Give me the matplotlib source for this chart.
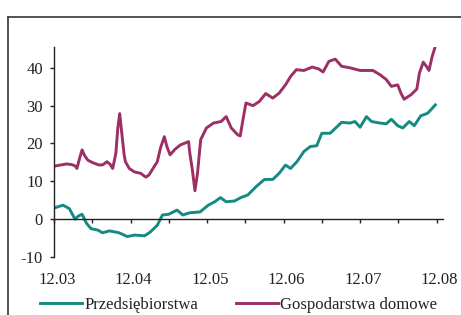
import matplotlib
matplotlib.use("Agg")
import matplotlib.pyplot as plt
from matplotlib.lines import Line2D

# months since Dec 2003
purple_x = [0, 1.0, 2.0, 2.8, 3.3, 3.6, 4.0, 4.4, 4.8, 5.3, 6.1, 7.1, 7.7, 8.3, 8.8,
            9.2, 9.7, 10.0, 10.3, 10.6, 11.0, 11.2, 11.8, 12.6, 13.6, 14.4, 14.9, 15.3,
            16.2, 16.7, 17.3, 17.7, 18.2, 19.0, 19.8, 21.1, 21.3, 21.7, 22.1, 22.5, 23.0,
            23.9, 25.0, 26.2, 27.0, 27.8, 28.8, 29.2, 29.6, 30.1, 31.2, 32.2, 33.2, 34.3,
            35.3, 36.3, 37.1, 38.0, 39.2, 40.5, 41.5, 42.2, 43.1, 44.1, 45.1, 46.4, 48.0,
            50.0, 51.1, 52.1, 52.9, 53.9, 54.4, 54.9, 56.0, 56.9, 57.3, 57.9, 58.4, 58.8,
            59.3, 59.8]
purple_y = [14.0, 14.3, 14.6, 14.4, 14.1, 13.4, 16.0, 18.3, 16.8, 15.6, 14.9, 14.3, 14.4,
            15.2, 14.5, 13.4, 17.4, 24.0, 27.9, 23.2, 17.0, 15.2, 13.4, 12.5, 12.1, 11.1,
            11.7, 12.8, 15.2, 18.8, 21.8, 19.2, 17.0, 18.5, 19.6, 20.5, 17.4, 13.0, 7.5,
            12.1, 21.0, 24.1, 25.4, 25.8, 27.1, 24.1, 22.3, 22.0, 26.0, 30.7, 30.0, 31.1,
            33.2, 32.0, 33.3, 35.5, 37.7, 39.5, 39.3, 40.2, 39.7, 38.9, 41.7, 42.3, 40.4,
            40.0, 39.3, 39.3, 38.2, 36.9, 35.1, 35.5, 33.3, 31.7, 32.9, 34.4, 38.6, 41.5,
            40.4, 39.3, 43.0, 45.7]

teal_x = [0, 0.3, 1.4, 2.4, 3.3, 3.8, 4.4, 5.1, 5.8, 6.9, 7.6, 8.7, 10.2, 11.5, 12.6,
          14.2, 15.1, 16.2, 17.0, 18.0, 19.3, 20.2, 21.3, 22.9, 24.2, 25.2, 26.1, 27.0,
          28.3, 29.3, 30.4, 31.7, 33.0, 34.3, 35.3, 36.3, 37.1, 38.1, 39.2, 40.2, 41.2,
          42.0, 43.3, 44.3, 45.1, 46.4, 47.2, 48.0, 49.0, 49.8, 51.1, 52.1, 52.9, 53.9,
          54.7, 55.7, 56.5, 57.5, 58.6, 59.8]
teal_y = [3.0, 3.1, 3.7, 2.8, 0.0, 0.8, 1.3, -1.1, -2.5, -2.9, -3.6, -3.1, -3.6, -4.6,
          -4.2, -4.4, -3.4, -1.6, 1.1, 1.3, 2.4, 1.1, 1.7, 1.9, 3.7, 4.6, 5.7, 4.6, 4.8,
          5.7, 6.4, 8.6, 10.5, 10.5, 12.1, 14.3, 13.4, 15.2, 17.9, 19.2, 19.4, 22.7, 22.7,
          24.3, 25.6, 25.4, 25.8, 24.3, 27.1, 25.8, 25.4, 25.2, 26.4, 24.7, 24.1, 25.8,
          24.7, 27.3, 28.0, 30.2]

year_ticks = [0, 12, 24, 36, 48, 60]
year_labels = ["12.03", "12.04", "12.05", "12.06", "12.07", "12.08"]
half_ticks = [0, 6, 12, 18, 24, 30, 36, 42, 48, 54, 60]
y_ticks = [-10, 0, 10, 20, 30, 40]

TEAL = "#158a82"
PLUM = "#9b2f66"
TXT = "#222222"

plt.rcParams["font.family"] = ["Liberation Serif", "DejaVu Serif"]
plt.rcParams["axes.unicode_minus"] = False

fig = plt.figure(figsize=(4.61, 3.15), dpi=100)
ax = fig.add_axes([54 / 461, 58 / 315, 389 / 461, 210 / 315])

ax.plot(teal_x, teal_y, color=TEAL, lw=2.1, label="Przedsiębiorstwa")
ax.plot(purple_x, purple_y, color=PLUM, lw=2.1, label="Gospodarstwa domowe")

ax.set_xlim(0, 61)
ax.set_ylim(-10, 45.5)
for s in ("top", "right"):
    ax.spines[s].set_visible(False)
ax.spines["bottom"].set_position(("data", 0))
for s in ("left", "bottom"):
    ax.spines[s].set_color("#222222")
    ax.spines[s].set_linewidth(1.0)

ax.set_yticks(y_ticks)
ax.set_xticks(half_ticks)
ax.tick_params(axis="y", direction="out", length=3, width=1, pad=5,
               labelsize=12, labelcolor=TXT, color="#222222")
ax.tick_params(axis="x", direction="out", length=3, width=1,
               labelbottom=False, color="#222222")

# year labels sit below the plot, not on the zero line
for xt, lab in zip(year_ticks, year_labels):
    ax.annotate(lab, xy=(xt, 0), xycoords=("data", "axes fraction"),
                xytext=(2, -11), textcoords="offset points",
                ha="center", va="top", fontsize=12, color=TXT)

fig.legend(loc="lower left", bbox_to_anchor=(25 / 461, -0.04), ncol=2,
           frameon=False, fontsize=12, handlelength=2.5, handletextpad=0.15,
           columnspacing=2.3, labelcolor=TXT)

# outer frame (top and left edges visible)
fy = 1 - 16.5 / 315
fx = 7.5 / 461
fig.add_artist(Line2D([fx, 1], [fy, fy], transform=fig.transFigure, color="#444444", lw=1.3))
fig.add_artist(Line2D([fx, fx], [0, fy], transform=fig.transFigure, color="#444444", lw=1.3))

fig.savefig("out.png", dpi=100)
